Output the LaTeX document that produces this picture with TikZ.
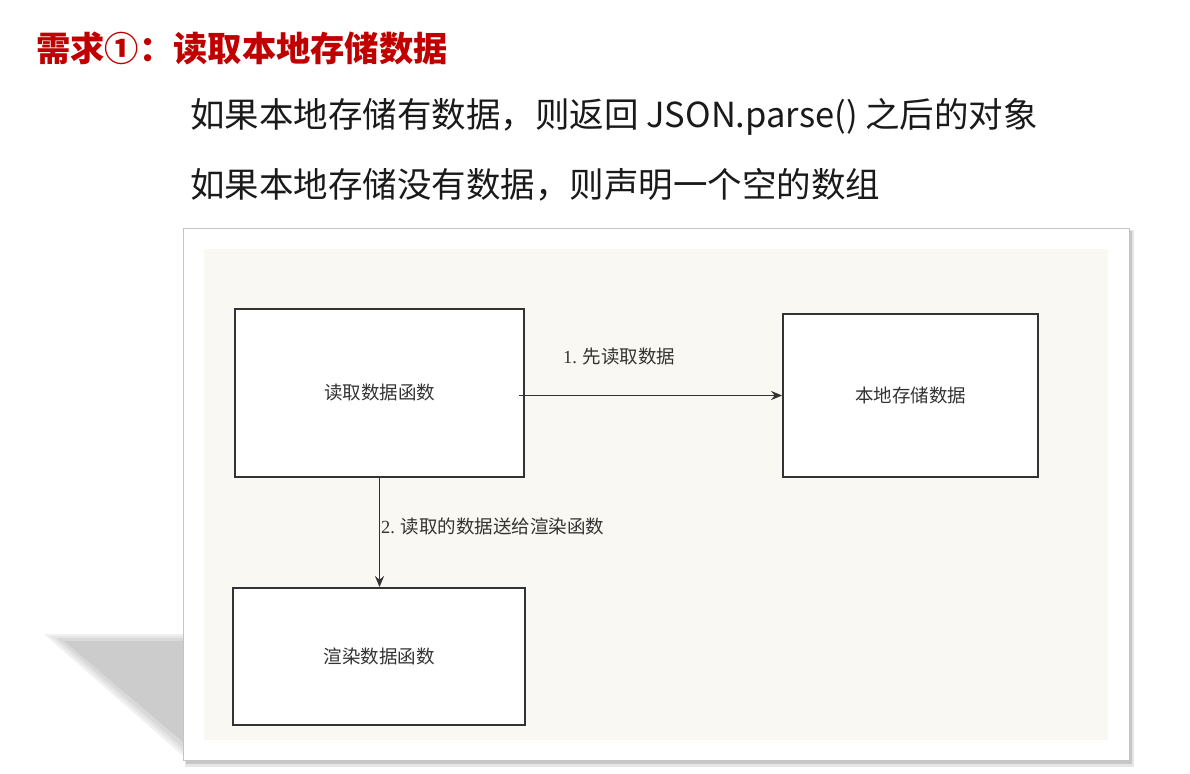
\documentclass[tikz,border=0pt]{standalone}
\usepackage{fontspec}
\newfontfamily\cjk{Noto Sans CJK SC}
\newfontfamily\ser{Liberation Serif}
\usetikzlibrary{arrows.meta}
\definecolor{titlered}{HTML}{C00000}
\definecolor{beige}{HTML}{FAF8F2}
\definecolor{boxline}{HTML}{333333}
\definecolor{frameline}{HTML}{C4C4C4}
\definecolor{txt}{HTML}{1A1A1A}
\begin{document}
\begin{tikzpicture}[x=1pt,y=-1pt,
  funcbox/.style={draw=boxline, line width=1.8pt, fill=white, inner sep=0pt},
  boxlabel/.style={font=\cjk\fontsize{18.5}{22}\selectfont, text=boxline},
  edgelabel/.style={font=\cjk\fontsize{18.5}{22}\selectfont, text=boxline, inner sep=0pt, anchor=west},
  conn/.style={draw=boxline, line width=1.8pt, -{Stealth[length=11pt,width=9pt]}},
  headline/.style={font=\cjk\fontsize{34.5}{40}\selectfont, text=txt, inner sep=0pt, anchor=west}]
\useasboundingbox (0,0) rectangle (1190,773);
\fill[white] (0,0) rectangle (1190,773);
% title
\node[font=\cjk\bfseries\fontsize{34.3}{40}\selectfont, text=titlered, inner sep=0pt, anchor=west] (title) at (36,48) {需求①：读取本地存储数据};
\node[headline] (l1) at (190,117) {如果本地存储有数据，则返回 JSON.parse() 之后的对象};
\node[headline] (l2) at (190,185) {如果本地存储没有数据，则声明一个空的数组};
% perspective shadow (soft)
\fill[black!6] (44,634) -- (190,634) -- (190,762) -- cycle;
\fill[black!10] (50,636) -- (190,636) -- (190,758) -- cycle;
\fill[black!15] (56,638) -- (190,638) -- (190,754) -- cycle;
\fill[black!20] (64,641) -- (190,641) -- (190,748) -- cycle;
% frame
\fill[black!10] (185,230) rectangle (1134,767);
\fill[black!22] (186,231) rectangle (1132,764);
\filldraw[fill=white, draw=frameline, line width=1pt] (183,228) rectangle (1129,760);
\fill[beige] (204,249) rectangle (1108,740);
% boxes
\node[funcbox, minimum width=289pt, minimum height=168pt] (A) at (379.5,393) {};
\node[boxlabel] at (A.center) {读取数据函数};
\node[funcbox, minimum width=255pt, minimum height=163pt] (B) at (910.5,395.5) {};
\node[boxlabel] at (B.center) {本地存储数据};
\node[funcbox, minimum width=292pt, minimum height=137pt] (C) at (379,656.5) {};
\node[boxlabel] at (C.center) {渲染数据函数};
% connectors
\coordinate (a1) at (519,395.5);
\draw[conn] (a1) -- (B.west);
\draw[conn] (A.south) -- (A.south |- C.north);
\node[edgelabel] (e1) at (563,357) {{\ser 1.} 先读取数据};
\node[edgelabel] (e2) at (381,526) {{\ser 2.} 读取的数据送给渲染函数};
\end{tikzpicture}
\end{document}
